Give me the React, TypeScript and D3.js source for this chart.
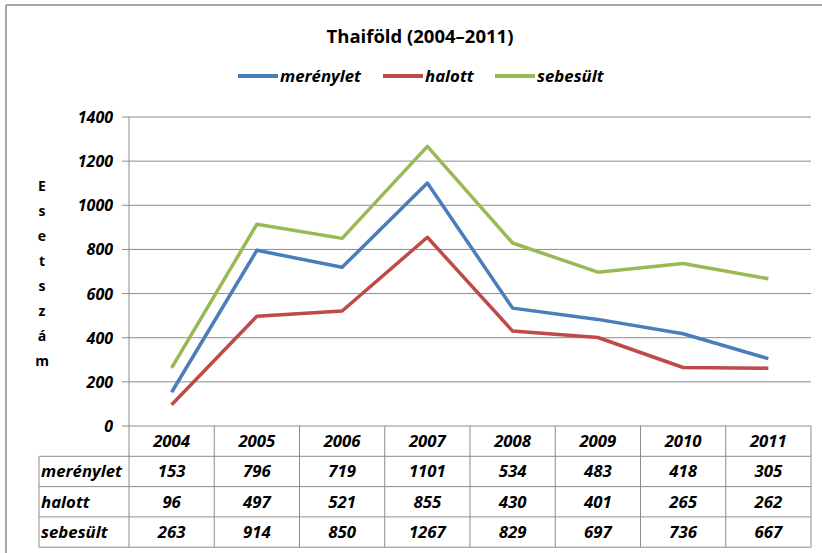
import * as d3 from 'd3'

// chart values
const years = ['2004', '2005', '2006', '2007', '2008', '2009', '2010', '2011']
const merenylet = [153, 796, 719, 1101, 534, 483, 418, 305]
const halott = [96, 497, 521, 855, 430, 401, 265, 262]
const sebesult = [263, 914, 850, 1267, 829, 697, 736, 667]
const yTicks = [0, 200, 400, 600, 800, 1000, 1200, 1400]
const seriesNames = ['merénylet', 'halott', 'sebesült']
const colors = ['#4A7EBB', '#BE4B48', '#98B954']
const yTitle = 'Esetszám'

const W = 822
const H = 553
const font = '"Open Sans", Lato, sans-serif'
const grey = '#8c8c8c'
const fs = 16.8

const App = () => {
    const series = [merenylet, halott, sebesult]
    const x = d3.scaleBand().domain(years).range([129, 811])
    const y = d3.scaleLinear().domain([0, 1400]).range([426, 117])
    const bw = x.bandwidth()
    const cx = (i: number) => (x(years[i]) as number) + bw / 2

    const line = d3.line<number>()
        .x((d, i) => cx(i))
        .y(d => y(d))

    const rowH = 30.3
    const tableTop = y(0)
    const rows = [0, 1, 2, 3].map(k => tableTop + rowH * (k + 1))
    const labelLeft = 39

    // legend positions
    const legendItems = [
        {x: 238, w: 40},
        {x: 383, w: 40},
        {x: 495, w: 40},
    ]

    return (
        <svg width={W} height={H} style={{position: 'absolute', left: 0, top: 0, background: 'white'}}>
            {/* outer frame */}
            <line x1={6} y1={5} x2={W} y2={5} stroke="#a6a6a6" strokeWidth={2}/>
            <line x1={6} y1={5} x2={6} y2={H} stroke="#a6a6a6" strokeWidth={2}/>

            <text x={420} y={43} textAnchor="middle" fontFamily={font} fontWeight="bold" fontSize={18.5}>
                Thaiföld (2004–2011)
            </text>

            {legendItems.map((l, i) => (
                <g key={i}>
                    <line x1={l.x} x2={l.x + l.w} y1={76} y2={76} stroke={colors[i]} strokeWidth={4}/>
                    <text x={l.x + l.w + 2} y={82} fontFamily={font} fontWeight="bold" fontStyle="italic" fontSize={fs}>
                        {seriesNames[i]}
                    </text>
                </g>
            ))}

            {/* gridlines and ticks */}
            {yTicks.map(t => (
                <g key={t}>
                    <line x1={122} x2={811} y1={y(t)} y2={y(t)} stroke={grey} strokeWidth={1}/>
                    <text x={113} y={y(t) + 6} textAnchor="end" fontFamily={font} fontWeight="bold"
                          fontStyle="italic" fontSize={16}>{t}</text>
                </g>
            ))}
            <line x1={129} x2={129} y1={y(1400)} y2={rows[3]} stroke={grey}/>

            {yTitle.split('').map((c, i) => (
                <text key={i} x={42} y={191 + i * 25} textAnchor="middle" fontFamily={font}
                      fontWeight="bold" fontSize={14}>{c}</text>
            ))}

            {/* series lines */}
            {series.map((s, i) => (
                <path key={i} d={line(s) as string} fill="none" stroke={colors[i]} strokeWidth={3.5}
                      strokeLinejoin="round"/>
            ))}

            {/* data table */}
            {years.map((yr, i) => (
                <line key={yr} x1={(x(yr) as number) + bw} x2={(x(yr) as number) + bw}
                      y1={tableTop} y2={rows[3]} stroke={grey}/>
            ))}
            {rows.map((r, k) => (
                <line key={k} x1={labelLeft} x2={811} y1={r} y2={r} stroke={grey}/>
            ))}
            <line x1={labelLeft} x2={labelLeft} y1={rows[0]} y2={rows[3]} stroke={grey}/>
            {years.map((yr, i) => (
                <text key={yr} x={cx(i)} y={tableTop + 21} textAnchor="middle" fontFamily={font}
                      fontWeight="bold" fontStyle="italic" fontSize={fs}>{yr}</text>
            ))}
            {series.map((s, k) => (
                <g key={k}>
                    <text x={labelLeft + 2} y={rows[k] + 21} fontFamily={font} fontWeight="bold"
                          fontStyle="italic" fontSize={fs}>{seriesNames[k]}</text>
                    {s.map((v, i) => (
                        <text key={i} x={cx(i)} y={rows[k] + 21} textAnchor="middle" fontFamily={font}
                              fontWeight="bold" fontStyle="italic" fontSize={fs}>{v}</text>
                    ))}
                </g>
            ))}
        </svg>
    )
}

export default App
